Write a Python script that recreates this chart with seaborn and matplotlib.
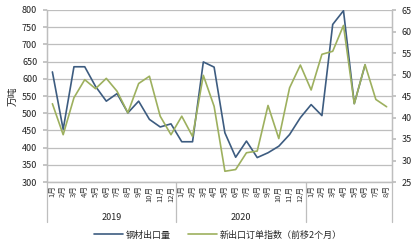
import numpy as np
import pandas as pd
import seaborn as sns
import matplotlib
matplotlib.use("Agg")
import matplotlib.pyplot as plt
import matplotlib.transforms as mtransforms

# ---- data ----
months = ["1月", "2月", "3月", "4月", "5月", "6月", "7月", "8月", "9月", "10月", "11月", "12月"] * 2 + \
         ["1月", "2月", "3月", "4月", "5月", "6月", "7月", "8月"]
years = ["2019", "2020", ""]
year_sizes = [12, 12, 8]

steel_export = [620, 453, 635, 635, 578, 535, 557, 501, 535, 482, 460, 469,
                417, 417, 649, 634, 443, 372, 419, 371, 385, 404, 438, 487,
                525, 493, 758, 798, 528, 640, np.nan, np.nan]
new_export_order = [43.2, 36.0, 44.6, 48.8, 46.7, 49.1, 46.1, 41.1, 47.9, 49.6, 40.3, 36.0,
                    40.3, 35.6, 49.8, 42.6, 27.5, 27.9, 31.8, 32.2, 42.8, 35.1, 46.9, 52.2,
                    46.4, 54.7, 55.4, 61.4, 43.2, 52.3, 44.2, 42.5]

label_a = "钢材出口量"
label_b = "新出口订单指数（前移2个月）"

df = pd.DataFrame({"idx": np.arange(len(months)),
                   "steel": steel_export,
                   "order": new_export_order})

# ---- style ----
sns.set_theme(style="white")
plt.rcParams["font.family"] = ["Noto Sans CJK SC", "DejaVu Sans"]

blue = "#3D5C80"
green = "#9DB05E"
grid_c = "#BEBEBE"

fig = plt.figure(figsize=(4.15, 2.48), dpi=100)
ax = fig.add_axes([47 / 415, 1 - 182 / 248, (392 - 47) / 415, (182 - 10) / 248])
ax2 = ax.twinx()

sns.lineplot(data=df, x="idx", y="steel", ax=ax, color=blue, linewidth=1.2, label=label_a, legend=False)
sns.lineplot(data=df, x="idx", y="order", ax=ax2, color=green, linewidth=1.2, label=label_b, legend=False)

ax.set_xlim(-0.5, len(months) - 0.5)
ax.set_ylim(300, 800)
ax2.set_ylim(25, 65)
ax.set_yticks(np.arange(300, 801, 50))
ax2.set_yticks(np.arange(25, 66, 5))

ax.yaxis.grid(True, color=grid_c, linewidth=0.9)
ax.xaxis.grid(False)
ax2.grid(False)
ax.set_zorder(1)
ax2.set_zorder(2)
ax2.patch.set_visible(False)

for a in (ax, ax2):
    a.spines["top"].set_visible(False)
    for s in ["left", "right", "bottom"]:
        a.spines[s].set_color(grid_c)
        a.spines[s].set_linewidth(0.9)

ax.set_xticks(np.arange(len(months)))
ax.set_xticklabels(months, rotation=90, fontsize=5.5, va="top", color="#333333")
ax.tick_params(axis="x", length=0, pad=2.5)
ax.tick_params(axis="y", labelsize=6.5, length=3, pad=4, labelcolor="#222222", color=grid_c)
ax2.tick_params(axis="y", labelsize=6.5, length=3, pad=4, labelcolor="#222222", color=grid_c)
ax.set_xlabel("")
ax.set_ylabel("万吨", fontsize=7, labelpad=3, color="#222222")
ax2.set_ylabel("")

# group separators and year labels
trans = mtransforms.blended_transform_factory(ax.transData, ax.transAxes)
bounds = np.concatenate([[0], np.cumsum(year_sizes)]) - 0.5
for b in bounds:
    ax.plot([b, b], [0, -0.235], transform=trans, color=grid_c, linewidth=0.9, clip_on=False)
for yr, lo, hi in zip(years, bounds[:-1], bounds[1:]):
    if yr:
        ax.text((lo + hi) / 2, -0.205, yr, transform=trans, ha="center", va="center",
                fontsize=6.5, color="#222222")

# legend
h1, l1 = ax.get_legend_handles_labels()
h2, l2 = ax2.get_legend_handles_labels()
fig.legend(h1 + h2, l1 + l2, loc="center", bbox_to_anchor=(0.525, 0.052), ncol=2,
           frameon=False, fontsize=6.5, handlelength=3.2, columnspacing=2.0, handletextpad=0.3)

fig.savefig("out.png", dpi=100)
